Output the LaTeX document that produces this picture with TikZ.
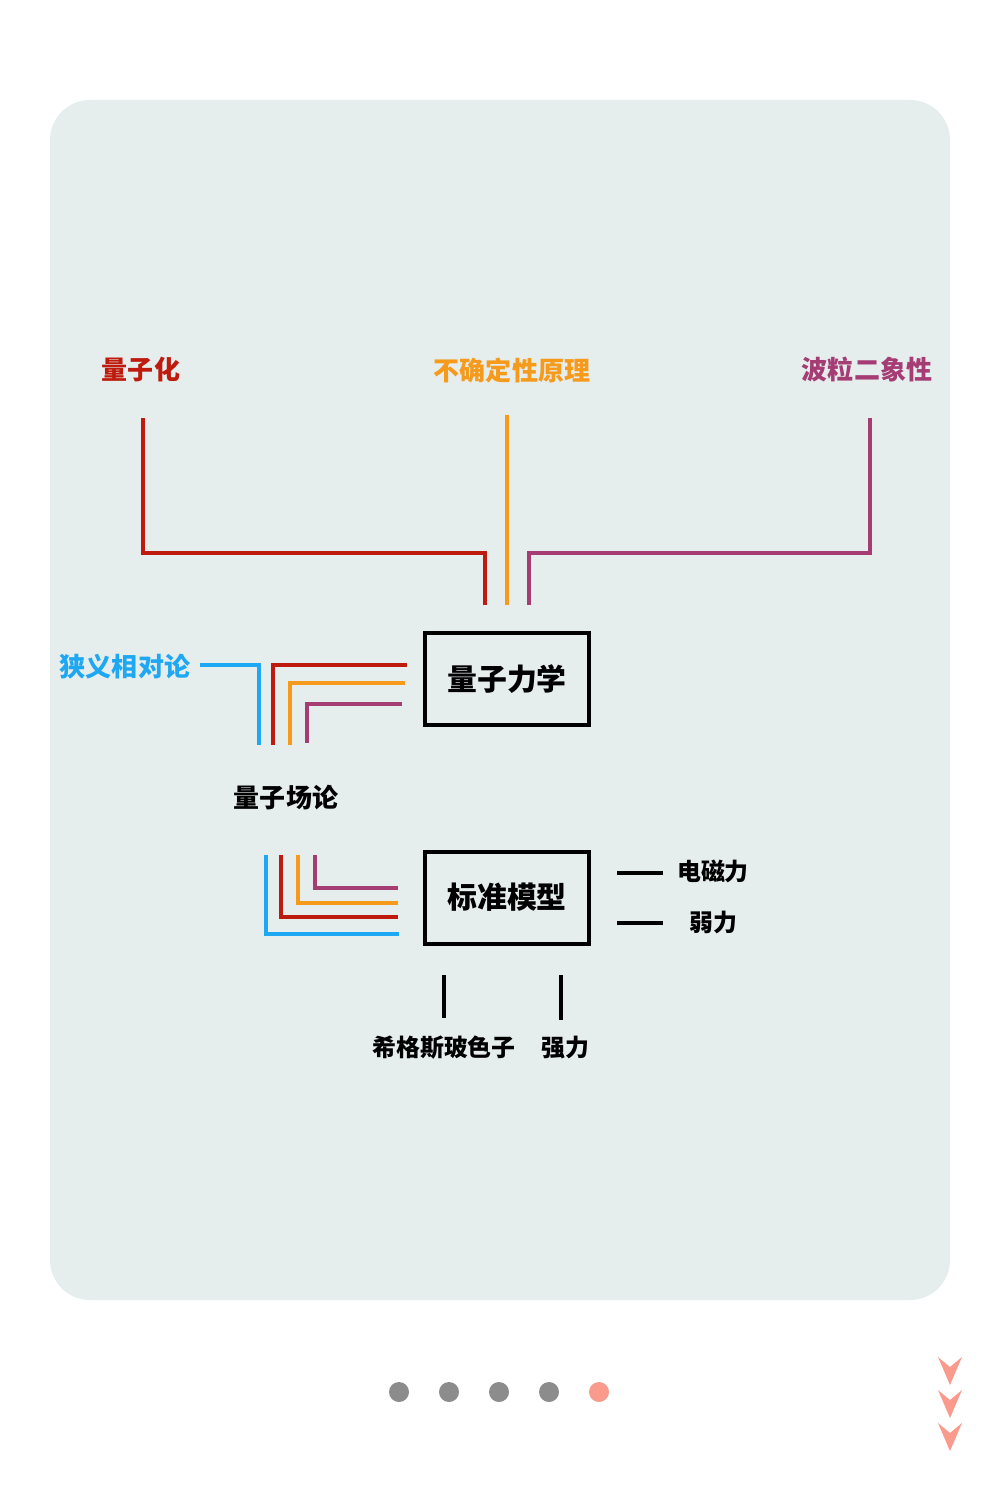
\documentclass[tikz,border=0pt]{standalone}
\usepackage{fontspec}
\setmainfont{Noto Sans CJK SC}
\definecolor{bg}{HTML}{E6EDED}
\definecolor{cred}{HTML}{BE1B0E}
\definecolor{cora}{HTML}{F59A1B}
\definecolor{cpur}{HTML}{A53C74}
\definecolor{cblu}{HTML}{1EA7F2}
\definecolor{cdot}{HTML}{8C8C8C}
\definecolor{cpink}{HTML}{F99A8C}
\begin{document}
\begin{tikzpicture}[x=0.01cm,y=-0.01cm,
  ln/.style={line width=0.9pt},
  lbl/.style={font=\bfseries\fontsize{7.4pt}{8pt}\selectfont,inner sep=0},
  sml/.style={font=\bfseries\fontsize{6.8pt}{8pt}\selectfont,inner sep=0},
  bx/.style={draw,line width=1pt,minimum width=164\pgflinewidth,font=\bfseries\fontsize{8.5pt}{9pt}\selectfont}]
\useasboundingbox (0,0) rectangle (999,1500);
\fill[white] (0,0) rectangle (999,1500);
\fill[bg,rounded corners=0.4cm] (50,100) rectangle (950,1300);
% top labels
\node[lbl,text=cred] (qz) at (141,370) {量子化};
\node[lbl,text=cora] (bq) at (512,370) {不确定性原理};
\node[lbl,text=cpur] (bl) at (867,370) {波粒二象性};
\draw[ln,cred] (143,418) -- (143,553) -- (485,553) -- (485,605);
\draw[ln,cora] (507,415) -- (507,605);
\draw[ln,cpur] (870,418) -- (870,553) -- (529,553) -- (529,605);
% box 1
\draw[line width=1.1pt] (425,633) rectangle (589,725);
\node[bx,draw=none] (qm) at (507,679) {量子力学};
\node[lbl,text=cblu] (sr) at (125,667) {狭义相对论};
\draw[ln,cblu] (200,665) -- (259,665) -- (259,745);
\draw[ln,cred] (407,665) -- (273,665) -- (273,745);
\draw[ln,cora] (405,683) -- (290,683) -- (290,745);
\draw[ln,cpur] (402,704) -- (307,704) -- (307,743);
\node[lbl] (qft) at (286,798) {量子场论};
\draw[ln,cpur] (315,855) -- (315,888) -- (398,888);
\draw[ln,cora] (298,855) -- (298,903) -- (398,903);
\draw[ln,cred] (281,855) -- (281,917) -- (398,917);
\draw[ln,cblu] (266,855) -- (266,934) -- (399,934);
% box 2
\draw[line width=1.1pt] (425,852) rectangle (589,944);
\node[bx,draw=none] (sm) at (507,897) {标准模型};
\draw[ln] (617,873) -- (663,873);
\draw[ln] (617,923) -- (663,923);
\node[sml] (em) at (713,871) {电磁力};
\node[sml] (wk) at (713,922) {弱力};
\draw[ln] (444,975) -- (444,1018);
\draw[ln] (561,975) -- (561,1020);
\node[sml] (hg) at (444,1048) {希格斯玻色子};
\node[sml] (st) at (565,1048) {强力};
% dots
\foreach \x in {399,449,499,549} \fill[cdot] (\x,1392) circle (10);
\fill[cpink] (599,1392) circle (10);
\foreach \y in {1357,1390,1423} \fill[cpink] (938,\y) -- (950,\y+10) -- (962,\y) -- (950,\y+28) -- cycle;
\end{tikzpicture}
\end{document}
